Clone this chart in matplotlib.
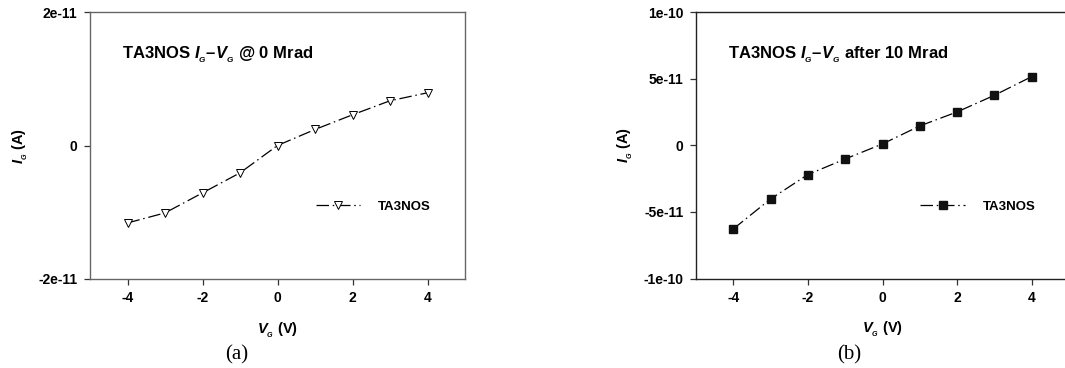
import matplotlib.pyplot as plt
import numpy as np

# Gate voltage sweep (V)
vg = [-4, -3, -2, -1, 0, 1, 2, 3, 4]

# Gate current (A)
ig_0mrad = [-1.16e-11, -1.01e-11, -0.71e-11, -0.41e-11, 0.0, 0.24e-11, 0.46e-11, 0.67e-11, 0.79e-11]
ig_10mrad = [-6.28e-11, -4.03e-11, -2.20e-11, -1.03e-11, 0.10e-11, 1.45e-11, 2.50e-11, 3.75e-11, 5.15e-11]

plt.rcParams['font.family'] = ['Liberation Sans', 'DejaVu Sans']
plt.rcParams['mathtext.fontset'] = 'custom'
plt.rcParams['mathtext.rm'] = 'Liberation Sans:bold'
plt.rcParams['mathtext.it'] = 'Liberation Sans:bold:italic'
plt.rcParams['mathtext.bf'] = 'Liberation Sans:bold'

fig = plt.figure(figsize=(10.65, 3.68), dpi=100)
ax_a = fig.add_axes([90 / 1065, 89 / 368, 375 / 1065, 267 / 368])
ax_b = fig.add_axes([696 / 1065, 89.5 / 368, 373 / 1065, 266.5 / 368])

dash = (0, (10, 3, 1.2, 3))


def style(ax, ylim, yticks, yticklabels, title, spine_color):
    ax.set_xlim(-5, 5)
    ax.set_ylim(*ylim)
    ax.set_xticks([-4, -2, 0, 2, 4])
    ax.set_xticklabels(['-4', '-2', '0', '2', '4'])
    ax.set_yticks(yticks)
    ax.set_yticklabels(yticklabels)
    for s in ax.spines.values():
        s.set_color(spine_color)
        s.set_linewidth(1.0)
    ax.tick_params(direction='out', length=4, width=0.9, color='#333333',
                   labelsize=10, pad=5)
    for lab in ax.get_xticklabels() + ax.get_yticklabels():
        lab.set_fontweight('bold')
    ax.set_xlabel(r'$V_{_G}$ (V)', fontsize=10.5, fontweight='bold', labelpad=11)
    ax.set_ylabel(r'$I_{_G}$ (A)', fontsize=10.5, fontweight='bold', labelpad=6)
    ax.text(0.085, 0.84, title, transform=ax.transAxes, fontsize=12,
            fontweight='bold', ha='left', va='center')


def legend(ax):
    leg = ax.legend(loc='center left', bbox_to_anchor=(0.57, 0.27), frameon=False,
                    fontsize=9.5, handlelength=3.4, handletextpad=1.3)
    for t in leg.get_texts():
        t.set_fontweight('bold')


# (a) before irradiation
ax_a.plot(vg, ig_0mrad, color='black', linewidth=0.9, linestyle=dash,
          marker='v', markersize=5.5, markerfacecolor='white',
          markeredgecolor='black', markeredgewidth=0.7, label='TA3NOS')
style(ax_a, (-2e-11, 2e-11), [-2e-11, 0, 2e-11], ['-2e-11', '0', '2e-11'],
      r'TA3NOS $I_{_G}$–$V_{_G}$ @ 0 Mrad', '#666666')
legend(ax_a)

# (b) after 10 Mrad
ax_b.plot(vg, ig_10mrad, color='black', linewidth=0.9, linestyle=dash,
          marker='s', markersize=6, markerfacecolor='#111111',
          markeredgecolor='#111111', label='TA3NOS')
style(ax_b, (-1e-10, 1e-10), [-1e-10, -5e-11, 0, 5e-11, 1e-10],
      ['-1e-10', '-5e-11', '0', '5e-11', '1e-10'],
      r'TA3NOS $I_{_G}$–$V_{_G}$ after 10 Mrad', '#222222')
legend(ax_b)

fig.text(237 / 1065, 1 - 355 / 368, '(a)', family='Liberation Serif',
         fontsize=15, ha='center', va='center')
fig.text(849 / 1065, 1 - 355 / 368, '(b)', family='Liberation Serif',
         fontsize=15, ha='center', va='center')

fig.savefig('out.png', dpi=100)
